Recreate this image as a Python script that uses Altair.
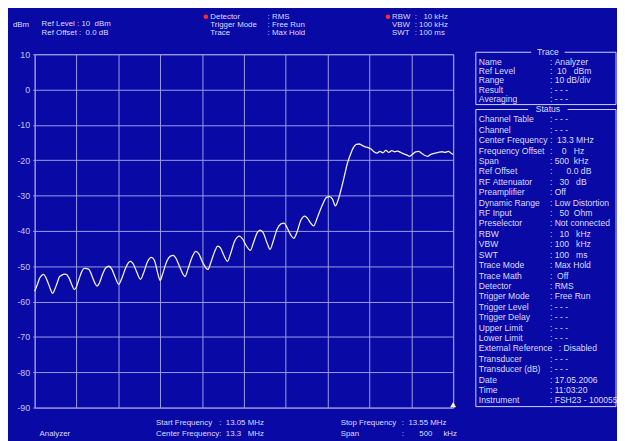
import altair as alt
import pandas as pd

# ---------------- data ----------------
freq_mhz = [
    13.0500, 13.0535, 13.0559, 13.0583, 13.0606, 13.0630, 13.0654, 13.0689, 13.0713, 13.0736,
    13.0772, 13.0796, 13.0819, 13.0855, 13.0878, 13.0914, 13.0949, 13.0973, 13.0996, 13.1032,
    13.1067, 13.1091, 13.1126, 13.1150, 13.1186, 13.1221, 13.1245, 13.1268, 13.1316, 13.1351,
    13.1387, 13.1422, 13.1457, 13.1505, 13.1540, 13.1587, 13.1623, 13.1647, 13.1682, 13.1717,
    13.1765, 13.1800, 13.1847, 13.1895, 13.1930, 13.1966, 13.1989, 13.2001, 13.2025, 13.2072,
    13.2119, 13.2155, 13.2190, 13.2238, 13.2297, 13.2332, 13.2379, 13.2427, 13.2462, 13.2509,
    13.2569, 13.2604, 13.2651, 13.2687, 13.2722, 13.2758, 13.2805, 13.2840, 13.2888, 13.2947,
    13.2982, 13.3029, 13.3077, 13.3112, 13.3160, 13.3195, 13.3230, 13.3278, 13.3313, 13.3349,
    13.3396, 13.3443, 13.3479, 13.3514, 13.3561, 13.3597, 13.3632, 13.3680, 13.3727, 13.3762,
    13.3798, 13.3833, 13.3881, 13.3940, 13.3987, 13.4022, 13.4058, 13.4093, 13.4129, 13.4164,
    13.4200, 13.4235, 13.4271, 13.4306, 13.4342, 13.4377, 13.4412, 13.4448, 13.4483, 13.4519,
    13.4554, 13.4590, 13.4625, 13.4661, 13.4696, 13.4732, 13.4767, 13.4802, 13.4838, 13.4873,
    13.4909, 13.4944, 13.4980, 13.5015, 13.5051, 13.5086, 13.5122, 13.5157, 13.5193, 13.5228,
    13.5264, 13.5299, 13.5334, 13.5370, 13.5405, 13.5441, 13.5476, 13.5500,
]
level_dbm = [
    -57.1, -55.0, -53.4, -52.6, -52.3, -53.0, -54.3, -56.5, -57.7, -56.8,
    -54.5, -53.0, -52.6, -52.2, -52.3, -53.5, -55.5, -56.6, -56.0, -53.5,
    -51.3, -50.6, -50.7, -50.9, -52.8, -54.8, -55.6, -55.0, -52.0, -50.4,
    -50.0, -50.8, -52.8, -55.1, -53.5, -50.5, -48.9, -48.6, -49.5, -51.5,
    -53.7, -52.0, -48.8, -47.5, -48.3, -51.5, -53.5, -54.0, -52.5, -49.0,
    -47.2, -46.9, -47.8, -50.5, -52.9, -50.8, -47.5, -45.8, -46.5, -49.0,
    -50.9, -49.0, -45.8, -44.3, -44.9, -46.8, -48.6, -46.5, -43.0, -41.5,
    -42.2, -44.2, -45.5, -43.5, -40.5, -39.8, -40.5, -43.5, -45.2, -43.0,
    -39.5, -38.0, -37.8, -39.0, -41.2, -42.1, -40.5, -37.0, -35.8, -36.5,
    -37.8, -38.6, -36.0, -32.5, -30.5, -30.3, -31.0, -32.9, -31.0, -28.0,
    -24.5, -21.0, -18.5, -16.5, -15.5, -15.4, -15.8, -16.2, -16.4, -16.8,
    -17.6, -18.0, -17.5, -17.9, -17.2, -17.8, -17.3, -17.6, -17.4, -17.8,
    -18.2, -18.5, -18.9, -18.3, -17.6, -17.5, -18.0, -18.6, -18.9, -18.4,
    -18.1, -17.9, -17.7, -17.6, -17.8, -17.5, -18.0, -18.4,
]
x_grid_mhz = [13.05, 13.10, 13.15, 13.20, 13.25, 13.30, 13.35, 13.40, 13.45, 13.50, 13.55]
y_grid_dbm = [10, 0, -10, -20, -30, -40, -50, -60, -70, -80, -90]
marker_freq_mhz = [13.55]
marker_level_dbm = [-90]

header_unit = "dBm"
header_ref_labels = ["Ref Level", "Ref Offset"]
header_ref_values = [": 10  dBm", ":  0.0 dB"]
header_det_labels = ["Detector", "Trigger Mode", "Trace"]
header_det_values = [": RMS", ": Free Run", ": Max Hold"]
header_bw_labels = ["RBW", "VBW", "SWT"]
header_bw_values = [":   10 kHz", ": 100 kHz", ": 100 ms"]

trace_labels = ["Name", "Ref Level", "Range", "Result", "Averaging"]
trace_values = [": Analyzer", ":  10   dBm", ": 10 dB/div", ": - - -", ": - - -"]
status_labels = [
    "Channel Table", "Channel", "Center Frequency", "Frequency Offset", "Span",
    "Ref Offset", "RF Attenuator", "Preamplifier", "Dynamic Range", "RF Input",
    "Preselector", "RBW", "VBW", "SWT", "Trace Mode", "Trace Math", "Detector",
    "Trigger Mode", "Trigger Level", "Trigger Delay", "Upper Limit", "Lower Limit",
    "External Reference", "Transducer", "Transducer (dB)", "Date", "Time", "Instrument",
]
status_values = [
    ": - - -", ": - - -", ":  13.3 MHz", ":    0   Hz", ": 500  kHz",
    ":      0.0 dB", ":   30   dB", ": Off", ": Low Distortion", ":   50  Ohm",
    ": Not connected", ":   10   kHz", ": 100   kHz", ": 100   ms", ": Max Hold", ":  Off", ": RMS",
    ": Free Run", ": - - -", ": - - -", ": - - -", ": - - -",
    ": Disabled", ": - - -", ": - - -", ": 17.05.2006", ": 11:03:20", ": FSH23 - 100055",
]
footer_labels = ["Start Frequency", "Center Frequency", "Stop Frequency", "Span"]
footer_values = [":  13.05 MHz", ":  13.3   MHz", ":  13.55 MHz", ":       500     kHz"]
footer_mode = "Analyzer"

# ---------------- styling ----------------
BLUE = "#0909a6"
GRID = "#9c9ce8"
TXT = "#dcdcff"
FONT = "Liberation Sans"
W, H = 424, 358
HS = 8.0   # header font size
PS = 8.7   # panel font size


def nb(s):
    return s.replace(" ", "\u00a0")


def text_layer(px, py, labels, size=PS, color=TXT, align="left"):
    df = pd.DataFrame({"px": px, "py": py, "label": [nb(s) for s in labels]})
    return alt.Chart(df).mark_text(
        align=align, baseline="middle", font=FONT, fontSize=size, color=color
    ).encode(
        x=alt.X("px:Q", scale=None, axis=None),
        y=alt.Y("py:Q", scale=None, axis=None),
        text="label:N",
    )


one = pd.DataFrame({"k": [0]})

trace_df = pd.DataFrame({"freq": freq_mhz, "level": level_dbm})

base_x = alt.X(
    "freq:Q",
    scale=alt.Scale(domain=[13.05, 13.55], nice=False, zero=False),
    axis=alt.Axis(values=x_grid_mhz, labels=False, ticks=False, domain=False,
                  grid=True, gridColor=GRID, gridWidth=1, gridOpacity=1, title=None),
)
base_y = alt.Y(
    "level:Q",
    scale=alt.Scale(domain=[-90, 10], nice=False, zero=False),
    axis=alt.Axis(values=y_grid_dbm, labelExpr="'' + datum.value", labelColor="#c4c4f4",
                  labelFont=FONT, labelFontSize=9, labelOverlap=False, ticks=True, tickSize=2,
                  tickColor=GRID, labelPadding=3, domain=False, grid=True, gridColor=GRID,
                  gridWidth=1, gridOpacity=1, title=None),
)

trace = alt.Chart(trace_df).mark_line(
    color="#f2f2dc", strokeWidth=1.3, interpolate="monotone"
).encode(x=base_x, y=base_y)

marker = alt.Chart(pd.DataFrame({"freq": marker_freq_mhz, "level": marker_level_dbm})).mark_point(
    shape="triangle-up", filled=True, size=38, color="#fff8b0", opacity=1, yOffset=-3
).encode(x=base_x, y=base_y)

# header
HY = [-38, -29.5, -21]
hdr = [
    text_layer([-22], [-30], [header_unit], size=HS),
    text_layer([7, 7], [-30.5, -21.5], [a + " " + b for a, b in zip(header_ref_labels, header_ref_values)], size=HS),
    text_layer([178] * 3, HY, header_det_labels, size=HS),
    text_layer([236] * 3, HY, header_det_values, size=HS),
    text_layer([362] * 3, HY, header_bw_labels, size=HS),
    text_layer([385] * 3, HY, header_bw_values, size=HS),
]
dots = alt.Chart(pd.DataFrame({"px": [173.5, 358], "py": [-38, -38]})).mark_circle(
    color="#ff2a2a", size=22, opacity=1
).encode(x=alt.X("px:Q", scale=None, axis=None), y=alt.Y("py:Q", scale=None, axis=None))

# right panel
PX0, PX1 = 447, 589
LAB_X, VAL_X = 450, 522
trace_y = [7.5 + 9.5 * i for i in range(len(trace_labels))]
status_y = [66 + 10.55 * i for i in range(len(status_labels))]
ext_i = status_labels.index("External Reference")
val_x = [VAL_X + (9 if i == ext_i else 0) for i in range(len(status_values))]

box_trace = alt.Chart(one).mark_rect(fillOpacity=0, stroke="#d0d0ff", strokeWidth=1).encode(
    x=alt.value(PX0), x2=alt.value(PX1), y=alt.value(-2), y2=alt.value(51))
box_status = alt.Chart(one).mark_rect(fillOpacity=0, stroke="#d0d0ff", strokeWidth=1).encode(
    x=alt.value(PX0), x2=alt.value(PX1), y=alt.value(56), y2=alt.value(357))
gap_trace = alt.Chart(one).mark_rect(color=BLUE).encode(
    x=alt.value(503), x2=alt.value(537), y=alt.value(-5), y2=alt.value(1))
gap_status = alt.Chart(one).mark_rect(color=BLUE).encode(
    x=alt.value(500), x2=alt.value(540), y=alt.value(53), y2=alt.value(59))

panel = [
    box_trace, box_status, gap_trace, gap_status,
    text_layer([520], [-2], ["Trace"], align="center"),
    text_layer([520], [56], ["Status"], align="center"),
    text_layer([LAB_X] * len(trace_labels), trace_y, trace_labels),
    text_layer([VAL_X] * len(trace_values), trace_y, trace_values),
    text_layer([LAB_X] * len(status_labels), status_y, status_labels),
    text_layer(val_x, status_y, status_values),
]

# footer
ftr = [
    text_layer([123, 123], [374, 385], footer_labels[:2], size=HS),
    text_layer([187, 187], [374, 385], footer_values[:2], size=HS),
    text_layer([310, 310], [374, 385], footer_labels[2:], size=HS),
    text_layer([372, 372], [374, 385], footer_values[2:], size=HS),
    text_layer([5], [385], [footer_mode], size=HS),
]

chart = alt.layer(trace, marker, dots, *hdr, *panel, *ftr).properties(
    width=W, height=H,
    autosize=alt.AutoSizeParams(type="none"),
    padding={"left": 27, "top": 44, "right": 166, "bottom": 31},
    background=BLUE,
).configure_view(stroke=GRID, strokeWidth=1).configure_axis(labelOverlap=False)

chart.save("out.html", embed_options={"renderer": "svg", "actions": False})
